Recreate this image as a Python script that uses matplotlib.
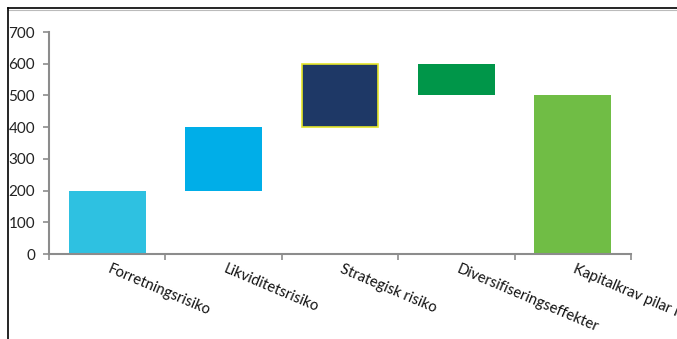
import matplotlib
matplotlib.use("Agg")
import matplotlib.pyplot as plt
from matplotlib.lines import Line2D

categories = ["Forretningsrisiko", "Likviditetsrisiko", "Strategisk risiko",
              "Diversifiseringseffekter", "Kapitalkrav pilar II"]
starts = [0, 200, 400, 600, 0]
ends = [200, 400, 600, 500, 500]
colors = ["#2EC1E1", "#00AEE8", "#1E3866", "#009649", "#70BD45"]
edgecolors = ["none", "none", "#E5E52A", "none", "none"]
yticks = [0, 100, 200, 300, 400, 500, 600, 700]

plt.rcParams['font.family'] = ['Lato', 'DejaVu Sans']

fig = plt.figure(figsize=(6.77, 3.39), dpi=100)
fig.patch.set_facecolor("white")
ax = fig.add_axes([49/677, 1-254/339, (631-49)/677, (254-32)/339])

x = list(range(len(categories)))
bottoms = [min(s, e) for s, e in zip(starts, ends)]
heights = [abs(e - s) for s, e in zip(starts, ends)]
for xi, b, h, c, ec in zip(x, bottoms, heights, colors, edgecolors):
    ax.bar(xi, h, bottom=b, width=0.66, color=c,
           edgecolor=ec, linewidth=1.2 if ec != "none" else 0)

ax.set_xlim(-0.5, len(categories) - 0.5)
ax.set_ylim(0, 700)
ax.set_yticks(yticks)
ax.set_yticklabels([str(v) for v in yticks], fontsize=11, color="#222222")
ax.tick_params(axis='y', length=4, width=1.2, color="#8C8C8C", pad=6)

ax.set_xticks([i - 0.5 for i in range(len(categories) + 1)])
ax.set_xticklabels([])
ax.tick_params(axis='x', length=4, width=1.2, color="#8C8C8C")

for xi, lab in zip(x, categories):
    ax.text(xi + 0.03, -25, lab, rotation=-23, rotation_mode='anchor',
            ha='left', va='top', fontsize=10.6, color="#111111", clip_on=False)

for side in ["top", "right"]:
    ax.spines[side].set_visible(False)
for side in ["left", "bottom"]:
    ax.spines[side].set_color("#8C8C8C")
    ax.spines[side].set_linewidth(1.5)

# outer frame of the screenshot
fig.add_artist(Line2D([8/677, 1], [1-8/339, 1-8/339], color="black", lw=1.2,
                      transform=fig.transFigure))
fig.add_artist(Line2D([8/677, 1], [1-10/339, 1-10/339], color="#BBBBBB", lw=0.8,
                      transform=fig.transFigure))
fig.add_artist(Line2D([8/677, 8/677], [0, 1-8/339], color="black", lw=1.2,
                      transform=fig.transFigure))

fig.savefig("out.png", dpi=100, facecolor="white")
